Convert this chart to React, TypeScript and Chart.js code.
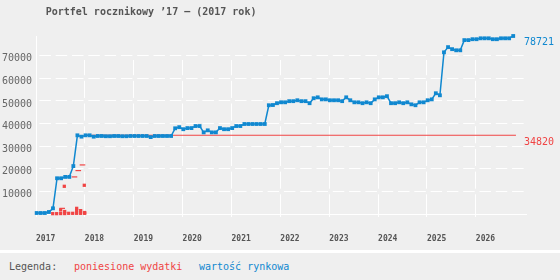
import { useEffect, useRef } from 'react';
import { Chart, registerables } from 'chart.js';

Chart.register(...registerables);

const TITLE = 'Portfel rocznikowy ’17 – (2017 rok)';
const FONT = '"DejaVu Sans Mono", monospace';
const BLUE = '#1088d0';
const RED = '#f04444';
const BG = '#efefef';

const yearTicks = [2017, 2018, 2019, 2020, 2021, 2022, 2023, 2024, 2025, 2026];
const valueTicks = [0, 10000, 20000, 30000, 40000, 50000, 60000, 70000];

// market value, one reading per month starting January 2017
const firstMonth = 2017.014;
const marketValue = [
  440, 440, 440, 880, 2520, 15800, 15800, 16400, 16400, 21200, 34800, 34200,
  34800, 34800, 34200, 34500, 34500, 34400, 34400, 34500, 34500, 34400, 34400, 34500,
  34500, 34500, 34500, 34500, 34000, 34500, 34500, 34500, 34500, 34500, 37900, 38400,
  37500, 38000, 38000, 38900, 38900, 36100, 37000, 36100, 36100, 38000, 37500, 37500,
  38000, 38900, 38900, 39800, 39800, 39800, 39800, 39800, 39800, 48100, 48200, 49000,
  49400, 49400, 49900, 49900, 50300, 49900, 49900, 49000, 51200, 51600, 50700, 50700,
  50300, 50300, 50300, 49900, 51600, 50300, 49400, 49400, 49000, 49400, 49000, 50700,
  51600, 51600, 52100, 49000, 49000, 49400, 49000, 49400, 48500, 48100, 49400, 49400,
  50300, 50700, 53400, 52500, 71500, 73800, 72900, 72400, 72400, 76900, 76900, 77300,
  77300, 77700, 77700, 77700, 77300, 77300, 77700, 77700, 77700, 78721,
];

// cumulative expenses
const costDates = [2017.536, 2017.787, 2017.865, 2017.951, 2018.0, 2026.82];
const costTotals = [2500, 16400, 19200, 21700, 34820, 34820];

// single purchases
const buyDates = [
  2017.342, 2017.423, 2017.505, 2017.505, 2017.587, 2017.587, 2017.579, 2017.669,
  2017.751, 2017.832, 2017.832, 2017.832, 2017.914, 2017.914, 2017.996, 2017.996, 2017.988,
];
const buyAmounts = [
  150, 150, 200, 1800, 200, 1100, 12250, 300,
  300, 300, 1550, 2500, 300, 1500, 300, 650, 12700,
];

const xMin = 2017;
const xMax = 2027.04;
const yMax = 78721;

const overlayPlugin = {
  id: 'overlay',
  afterDraw(chart: any) {
    const { ctx, chartArea, scales } = chart;
    ctx.save();
    ctx.textAlign = 'left';
    ctx.textBaseline = 'middle';
    ctx.font = `bold 10px ${FONT}`;
    ctx.fillStyle = '#555555';
    ctx.fillText(TITLE, chartArea.left + 9.7, 12.7);
    ctx.font = `10px ${FONT}`;
    const ends = [
      { v: marketValue[marketValue.length - 1], c: BLUE },
      { v: costTotals[costTotals.length - 1], c: RED },
    ];
    ends.forEach((e) => {
      ctx.fillStyle = e.c;
      ctx.fillText(String(e.v), chartArea.right - 2.7, scales.y.getPixelForValue(e.v) + 6.7);
    });
    ctx.restore();
  },
};

export default function App() {
  const ref = useRef<HTMLCanvasElement | null>(null);

  useEffect(() => {
    if (!ref.current) return;
    const chart = new Chart(ref.current, {
      type: 'line',
      data: {
        datasets: [
          {
            label: 'poniesione wydatki',
            data: buyDates.map((d, i) => ({ x: d, y: buyAmounts[i] })),
            showLine: false,
            pointStyle: 'rect',
            pointRadius: 2.3,
            pointBackgroundColor: RED,
            pointBorderWidth: 0,
            borderColor: RED,
            clip: false,
            order: 0,
          },
          {
            label: 'wartość rynkowa',
            data: marketValue.map((v, i) => ({ x: firstMonth + i / 12, y: v })),
            borderColor: BLUE,
            borderWidth: 1.5,
            pointStyle: 'rect',
            pointRadius: 2.7,
            pointBackgroundColor: BLUE,
            pointBorderWidth: 0,
            tension: 0,
            clip: false,
            order: 1,
          },
          {
            label: 'suma wydatków',
            data: costDates.map((d, i) => ({ x: d, y: costTotals[i] })),
            borderColor: RED,
            borderWidth: 1.2,
            segment: {
              borderColor: (c: any) => (c.p0DataIndex === costTotals.length - 2 ? RED : 'transparent'),
            },
            pointStyle: 'line',
            pointRadius: costTotals.map((_, i) => (i < costTotals.length - 2 ? 2.8 : 0)),
            pointBorderColor: RED,
            pointBackgroundColor: RED,
            pointBorderWidth: 1.2,
            clip: false,
            order: 2,
          },
        ],
      },
      options: {
        animation: false,
        responsive: false,
        events: [],
        layout: { padding: { top: 36, right: 33.3, left: 0, bottom: 0 } },
        plugins: {
          legend: { display: false },
          tooltip: { enabled: false },
          title: { display: false },
        },
        scales: {
          x: {
            type: 'linear',
            min: xMin,
            max: xMax,
            afterBuildTicks: (s: any) => {
              s.ticks = yearTicks.map((v) => ({ value: v }));
            },
            afterFit: (s: any) => {
              s.height = 36;
            },
            ticks: {
              align: 'start',
              autoSkip: false,
              maxRotation: 0,
              padding: 17,
              color: '#555555',
              font: { family: FONT, size: 8, weight: 'bold' },
              callback: (v: any) => String(v),
            },
            grid: {
              color: '#ffffff',
              lineWidth: 1,
              drawTicks: true,
              tickLength: 3,
              tickColor: '#ffffff',
            },
            border: {
              color: '#ffffff',
              width: 1,
              dash: [0, 24, 15.2, 5.6, 17.1, 5.6, 17.1, 5.6, 17.1, 5.6, 17.1, 5.6, 17.1, 5.6, 25, 10],
              dashOffset: 0,
            },
          },
          y: {
            type: 'linear',
            min: 0,
            max: yMax,
            afterBuildTicks: (s: any) => {
              s.ticks = valueTicks.map((v) => ({ value: v }));
            },
            afterFit: (s: any) => {
              s.width = 36;
            },
            ticks: {
              padding: 4,
              labelOffset: 3,
              color: '#666666',
              font: { family: FONT, size: 10 },
              callback: (v: any) => (v === 0 ? '' : String(v)),
            },
            grid: {
              color: '#ffffff',
              lineWidth: 1,
              drawTicks: false,
            },
            border: {
              color: '#ffffff',
              width: 1,
              dash: [11.5, 4.8],
              dashOffset: 13.9,
            },
          },
        },
      },
      plugins: [overlayPlugin],
    } as any);
    return () => chart.destroy();
  }, []);

  return (
    <div style={{ width: 560, height: 280, background: BG, position: 'relative', overflow: 'hidden' }}>
      <style>{`body{margin:0;background:${BG};}`}</style>
      <canvas ref={ref} width={560} height={250} style={{ display: 'block' }} />
      <div
        style={{
          position: 'relative',
          height: 27,
          borderTop: '3px solid #ffffff',
          fontFamily: FONT,
          fontSize: 10,
          lineHeight: '27px',
        }}
      >
        <span style={{ position: 'absolute', left: 9, color: '#555555' }}>Legenda:</span>
        <span style={{ position: 'absolute', left: 74, color: RED }}>poniesione wydatki</span>
        <span style={{ position: 'absolute', left: 199, color: BLUE }}>wartość rynkowa</span>
      </div>
    </div>
  );
}
